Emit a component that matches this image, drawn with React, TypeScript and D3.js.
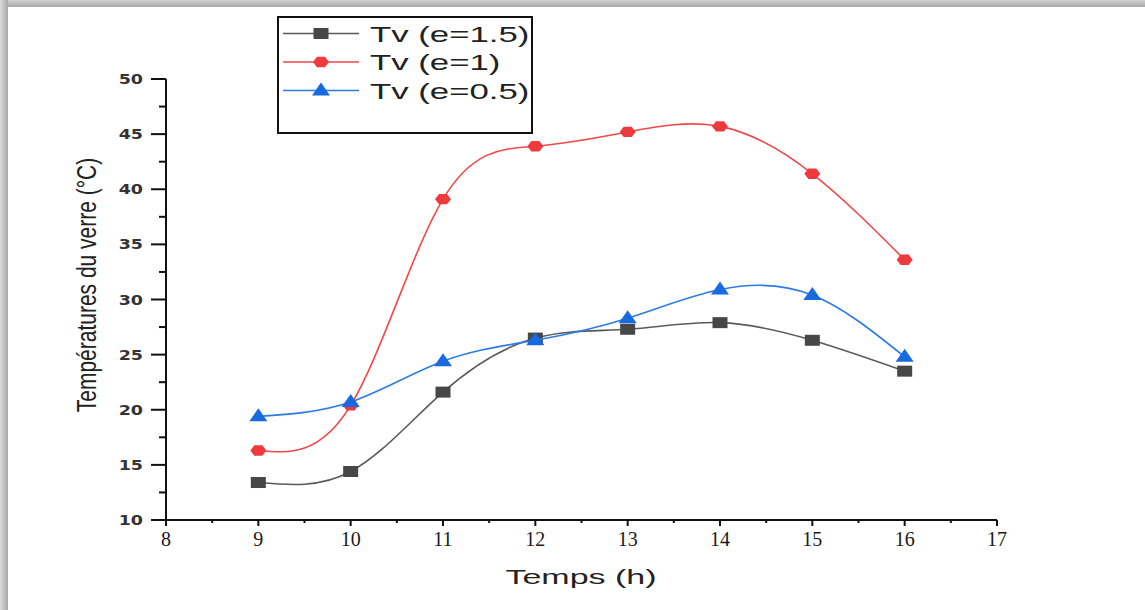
import React from 'react';
import * as d3 from 'd3';

const hours = [9, 10, 11, 12, 13, 14, 15, 16];
const tvE15 = [13.4, 14.4, 21.6, 26.5, 27.3, 27.9, 26.3, 23.5];
const tvE1 = [16.3, 20.4, 39.1, 43.9, 45.2, 45.7, 41.4, 33.6];
const tvE05 = [19.4, 20.7, 24.4, 26.3, 28.3, 30.9, 30.4, 24.8];
const xTicks = [8, 9, 10, 11, 12, 13, 14, 15, 16, 17];
const yTicks = [10, 15, 20, 25, 30, 35, 40, 45, 50];
const seriesNames = ['Tv (e=1.5)', 'Tv (e=1)', 'Tv (e=0.5)'];

const W = 1145;
const H = 610;

const x = d3.scaleLinear().domain([8, 17]).range([166, 997]);
const y = d3.scaleLinear().domain([10, 50]).range([520, 79]);

const series = [
  { name: seriesNames[0], values: tvE15, line: '#5a5a5a', fill: '#474747', marker: 'square' },
  { name: seriesNames[1], values: tvE1, line: '#f2474a', fill: '#ee3a3d', marker: 'star' },
  { name: seriesNames[2], values: tvE05, line: '#2c7be5', fill: '#176ae0', marker: 'triangle' },
];

function Marker({ kind, cx, cy, fill }: { kind: string; cx: number; cy: number; fill: string }) {
  if (kind === 'square') {
    return <rect x={cx - 7.5} y={cy - 5.5} width={15} height={11} fill={fill} />;
  }
  if (kind === 'triangle') {
    return <path d={`M${cx},${cy - 8}L${cx + 9},${cy + 5}L${cx - 9},${cy + 5}Z`} fill={fill} />;
  }
  // Origin "star" looks like a blurred hexagon at this size
  const pts = d3.range(6).map((i) => {
    const a = (Math.PI / 3) * i;
    return [cx + 8 * Math.cos(a), cy + 6 * Math.sin(a)];
  });
  return <polygon points={pts.map((p) => p.join(',')).join(' ')} fill={fill} />;
}

export default function App() {
  const line = d3
    .line<number>()
    .x((_, i) => x(hours[i]))
    .y((d) => y(d))
    .curve(d3.curveNatural);

  const minorX = d3.range(8.5, 17, 1);
  const minorY = d3.range(12.5, 50, 5);

  return (
    <svg width={W} height={H} style={{ position: 'absolute', left: 0, top: 0, background: '#fff' }}>
      <defs>
        <linearGradient id="shTop" x1="0" y1="0" x2="0" y2="1">
          <stop offset="0" stopColor="#d2d2d2" />
          <stop offset="1" stopColor="#a8a8a8" />
        </linearGradient>
        <linearGradient id="shLeft" x1="0" y1="0" x2="1" y2="0">
          <stop offset="0" stopColor="#dcdcdc" />
          <stop offset="1" stopColor="#a8a8a8" />
        </linearGradient>
      </defs>
      <rect x={0} y={0} width={W} height={7} fill="url(#shTop)" />
      <rect x={0} y={0} width={8} height={H} fill="url(#shLeft)" />

      {/* axes */}
      <g stroke="#111" strokeWidth={2} fill="none">
        <line x1={166} y1={79} x2={166} y2={521} />
        <line x1={165} y1={520} x2={997} y2={520} />
        {yTicks.map((t) => (
          <line key={'ym' + t} x1={151} x2={166} y1={y(t)} y2={y(t)} />
        ))}
        {minorY.map((t) => (
          <line key={'yn' + t} x1={159} x2={166} y1={y(t)} y2={y(t)} />
        ))}
        {xTicks.map((t) => (
          <line key={'xm' + t} x1={x(t)} x2={x(t)} y1={520} y2={526} />
        ))}
        {minorX.map((t) => (
          <line key={'xn' + t} x1={x(t)} x2={x(t)} y1={520} y2={523} />
        ))}
      </g>

      {yTicks.map((t) => (
        <text
          key={'yl' + t}
          transform={`translate(143,${y(t) + 5}) scale(1.25,1)`}
          textAnchor="end"
          fontFamily="DejaVu Sans"
          fontWeight="bold"
          fontSize={14}
          fill="#333"
        >
          {t}
        </text>
      ))}
      {xTicks.map((t) => (
        <text
          key={'xl' + t}
          x={x(t)}
          y={546}
          textAnchor="middle"
          fontFamily="Liberation Serif"
          fontSize={20}
          fill="#1a1a1a"
        >
          {t}
        </text>
      ))}

      <text
        transform="translate(581,584) scale(1.62,1)"
        textAnchor="middle"
        fontFamily="Liberation Sans"
        fontSize={21}
        fill="#222"
      >
        Temps (h)
      </text>
      <text
        transform="translate(96,285) scale(1.33,1) rotate(-90)"
        textAnchor="middle"
        fontFamily="Liberation Sans"
        fontSize={21}
        fill="#222"
      >
        Températures du verre (°C)
      </text>

      {/* series */}
      {series.map((s) => (
        <g key={s.name}>
          <path d={line(s.values) || ''} fill="none" stroke={s.line} strokeWidth={1.6} />
          {s.values.map((v, i) => (
            <Marker key={i} kind={s.marker} cx={x(hours[i])} cy={y(v)} fill={s.fill} />
          ))}
        </g>
      ))}

      {/* legend */}
      <rect x={278} y={17} width={254} height={116} fill="#fff" stroke="#111" strokeWidth={2} />
      {series.map((s, i) => {
        const cy = 33.5 + i * 28.5;
        return (
          <g key={'lg' + s.name}>
            <line x1={283} x2={359} y1={cy} y2={cy} stroke={s.line} strokeWidth={1.6} />
            <Marker kind={s.marker} cx={321} cy={cy} fill={s.fill} />
            <text
              transform={`translate(370,${cy + 8}) scale(1.58,1)`}
              fontFamily="Liberation Sans"
              fontSize={22}
              fill="#222"
            >
              {s.name}
            </text>
          </g>
        );
      })}
    </svg>
  );
}
